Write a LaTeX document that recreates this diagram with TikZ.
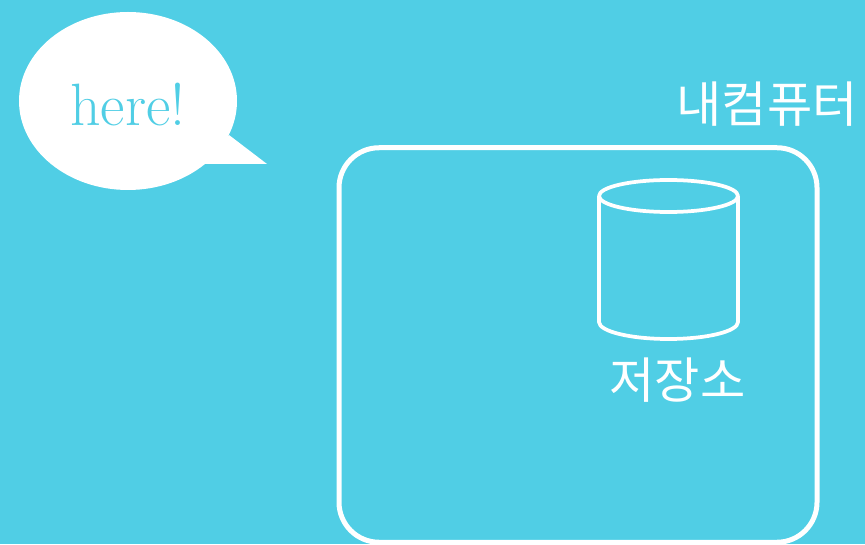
\documentclass[tikz,border=0pt]{standalone}
\usepackage{fontspec}
\usepackage{xcolor}
\newfontfamily\korfont{Noto Sans CJK KR}
\usetikzlibrary{positioning, shapes.geometric}
\definecolor{skybg}{HTML}{50CEE5}

\begin{document}
\begin{tikzpicture}[
  bubble/.style={ellipse, fill=white, inner sep=0pt, minimum width=4.36cm,
    minimum height=3.56cm},
  bubbletext/.style={text=skybg, inner sep=0pt, font=\fontsize{34}{38}\selectfont},
  pcbox/.style={draw=white, line width=0.1cm, rounded corners=0.8cm,
    minimum width=9.56cm, minimum height=7.89cm},
  storage/.style={draw=white, line width=0.075cm, line join=round},
  caption/.style={text=white, inner sep=0pt, font=\korfont\fontsize{28}{32}\selectfont},
]

% ===== Background =====
\fill[skybg] (0, 0) rectangle (17.3, 10.88);
\useasboundingbox (0, 0) rectangle (17.3, 10.88);

% ===== Speech bubble =====
\coordinate (tailtop) at (4.58, 8.18);
\coordinate (tailtip) at (5.34, 7.6);
\coordinate (tailbase) at (4.08, 7.6);
\fill[white] (tailtop) -- (tailtip) -- (tailbase) -- cycle;
\node[bubble] (here) at (2.56, 8.86) {};
\node[bubbletext, yshift=-0.08cm] (heretext) at (here) {here!};

% ===== My computer =====
\node[pcbox] (pc) at (11.56, 3.98) {};
\node[caption] (pclabel) at (15.34, 8.8) {내컴퓨터};

% ===== Repository =====
\coordinate (repotop) at (13.37, 6.96);
\coordinate (repoleft) at (11.98, 6.96);
\coordinate (repobottom) at (13.37, 4.1);
\draw[storage] (repotop) ellipse [x radius=1.39, y radius=0.32];
\draw[storage] (repoleft) -- ++(0, -2.52)
  arc [start angle=180, end angle=360, x radius=1.39, y radius=0.34] -- ++(0, 2.52);
\node[caption, below=0.36cm of repobottom, xshift=0.18cm] (repolabel) {저장소};

\end{tikzpicture}
\end{document}
